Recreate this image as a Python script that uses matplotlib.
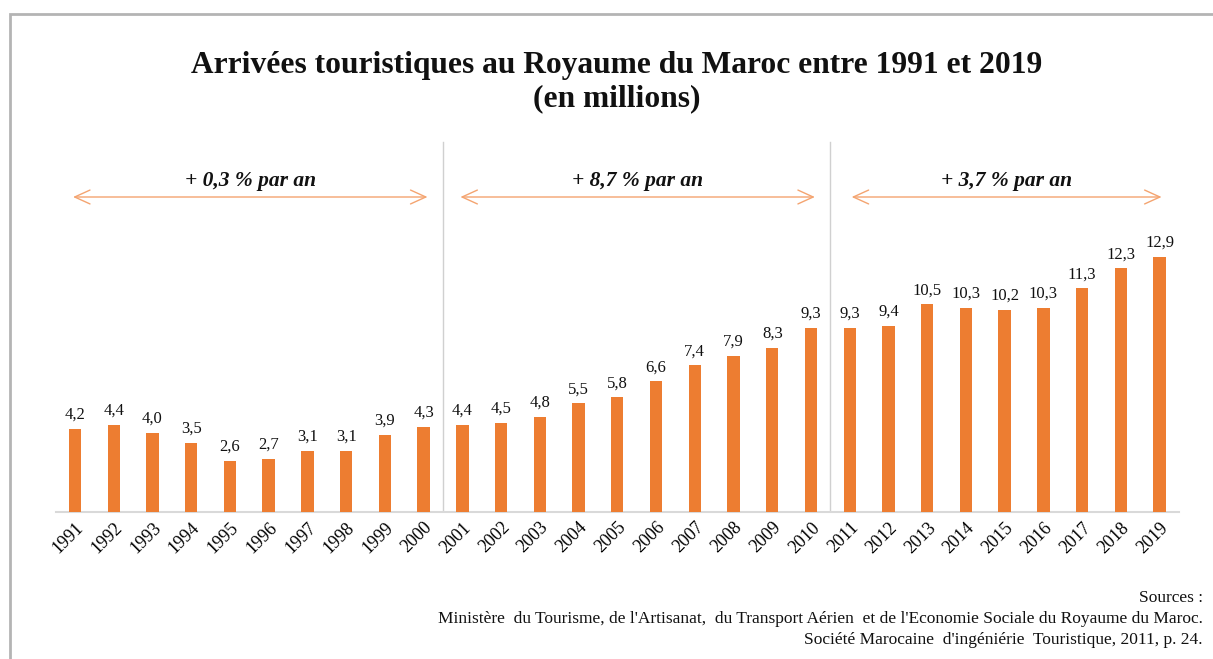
import matplotlib
matplotlib.use("Agg")
import matplotlib.pyplot as plt
from matplotlib.patches import Rectangle

years = [str(y) for y in range(1991, 2020)]
arrivals = [4.2, 4.4, 4.0, 3.5, 2.6, 2.7, 3.1, 3.1, 3.9, 4.3,
            4.4, 4.5, 4.8, 5.5, 5.8, 6.6, 7.4, 7.9, 8.3, 9.3,
            9.3, 9.4, 10.5, 10.3, 10.2, 10.3, 11.3, 12.3, 12.9]
periods = ["+ 0,3 % par an", "+ 8,7 % par an", "+ 3,7 % par an"]
title = "Arrivées touristiques au Royaume du Maroc entre 1991 et 2019\n(en millions)"
sources = ["Sources :",
           "Ministère  du Tourisme, de l'Artisanat,  du Transport Aérien  et de l'Economie Sociale du Royaume du Maroc.",
           "Société Marocaine  d'ingéniérie  Touristique, 2011, p. 24."]

plt.rcParams['font.family'] = ['Liberation Serif', 'DejaVu Serif']

W, H = 1213, 659
fig = plt.figure(figsize=(W / 100, H / 100), dpi=100)

ax_l, ax_r, ax_b, ax_t = 55.6, 1179, 512, 140
ax = fig.add_axes([ax_l / W, 1 - ax_b / H, (ax_r - ax_l) / W, (ax_b - ax_t) / H])
ppu = 19.8
ymax = (ax_b - ax_t) / ppu
ax.set_ylim(0, ymax)
ax.set_xlim(-0.5, len(years) - 0.5)

x = list(range(len(years)))
ax.bar(x, arrivals, width=0.32, color='#ED7D31', zorder=3)
for xi, v in zip(x, arrivals):
    ax.text(xi, v + 0.3, f"{v:.1f}".replace('.', ','), ha='center', va='bottom',
            fontsize=12, color='#111111')

for s in ['top', 'right', 'left']:
    ax.spines[s].set_visible(False)
ax.spines['bottom'].set_color('#d9d9d9')
ax.spines['bottom'].set_linewidth(1.5)
ax.set_yticks([])
ax.set_xticks(x)
ax.set_xticklabels(years, rotation=45, ha='right', rotation_mode='anchor', fontsize=13)
ax.tick_params(axis='x', length=0, pad=5)

sep_top = (ax_b - 142) / ppu
for xs in [9.5, 19.5]:
    ax.plot([xs, xs], [0, sep_top], color='#d0d0d0', lw=1, zorder=1)

arr_y = (ax_b - 197) / ppu
txt_y = (ax_b - 181) / ppu
spans = [(-0.05, 9.1), (9.95, 19.1), (20.05, 28.05)]
for (a, b), lab in zip(spans, periods):
    ax.annotate('', xy=(a, arr_y), xytext=(b, arr_y),
                arrowprops=dict(arrowstyle='<->,head_length=1.1,head_width=0.5',
                                color='#F4A470', lw=1.0, shrinkA=0, shrinkB=0))
    ax.text((a + b) / 2, txt_y, lab, ha='center', va='center', fontsize=15.5,
            fontweight='bold', fontstyle='italic', color='#111111')

fig.text(617 / W, 1 - 82 / H, title, ha='center', va='center', fontsize=22.7,
         fontweight='bold', linespacing=1.2, color='#111111')

sy = [598, 619, 640]
for t, yy in zip(sources, sy):
    fig.text(1203 / W, 1 - yy / H, t, ha='right', va='center', fontsize=12.5, color='#111111')

fig.patches.append(Rectangle((10 / W, -0.05), 1.2, 1 - 14 / H + 0.05, transform=fig.transFigure,
                             fill=False, edgecolor='#b4b4b4', lw=2))

fig.savefig('out.png', dpi=100)
